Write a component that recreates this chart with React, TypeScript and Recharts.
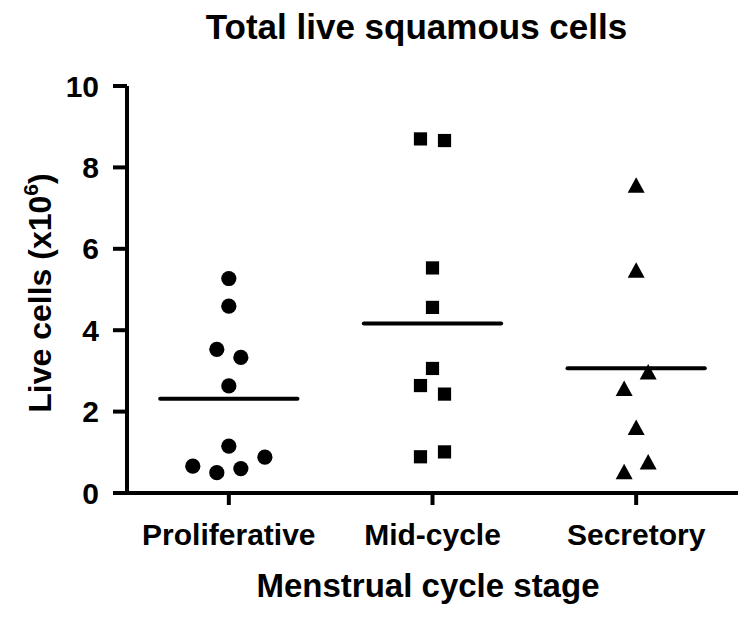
import { ScatterChart, Scatter, XAxis, YAxis, ReferenceLine, Label } from 'recharts'

const categories = ['Proliferative', 'Mid-cycle', 'Secretory']
// live cells (x10^6), listed in the order they sit left to right inside a row
const proliferative = [0.66, 0.5, 0.6, 0.88, 1.15, 2.63, 3.53, 3.33, 4.59, 5.27]
const midCycle = [0.89, 1.01, 2.64, 2.43, 3.06, 4.56, 5.53, 8.7, 8.66]
const secretory = [0.52, 0.76, 1.61, 2.57, 2.97, 5.47, 7.56]
const yTicks = [0, 2, 4, 6, 8, 10]

const FONT = '"Liberation Sans", Arial, Helvetica, sans-serif'
const W = 751
const H = 623
const ROW = 0.42 // values closer than this share a row
const STEP = 0.118 // horizontal spacing in a row (category units)
const HALF = 0.337 // half width of the mean bar

function swarm(values: number[], cat: number) {
  const order = values.map((_, i) => i).sort((a, b) => values[a] - values[b] || a - b)
  const rows: number[][] = []
  for (const i of order) {
    const last = rows[rows.length - 1]
    if (last && values[i] - values[last[0]] < ROW) last.push(i)
    else rows.push([i])
  }
  const pts: { x: number; y: number }[] = []
  rows.forEach(r => {
    const sorted = [...r].sort((a, b) => a - b)
    sorted.forEach((i, k) => {
      pts.push({ x: cat + 0.5 + (k - (sorted.length - 1) / 2) * STEP, y: values[i] })
    })
  })
  return pts
}

const mean = (v: number[]) => v.reduce((s, x) => s + x, 0) / v.length

const groups = [proliferative, midCycle, secretory]

const Dot = (p: any) => <circle cx={p.cx} cy={p.cy} r={7.6} fill="#000" />
const Sq = (p: any) => <rect x={p.cx - 6.6} y={p.cy - 6.6} width={13.2} height={13.2} fill="#000" />
const Tri = (p: any) => (
  <polygon
    points={`${p.cx},${p.cy - 8} ${p.cx - 8.5},${p.cy + 7.5} ${p.cx + 8.5},${p.cy + 7.5}`}
    fill="#000"
  />
)

const tickStyle = { fill: '#000', fontSize: 30, fontWeight: 'bold', fontFamily: FONT }

export default function App() {
  return (
    <div style={{ position: 'absolute', left: 0, top: 0, width: W, height: H, background: '#fff' }}>
      <div
        style={{
          position: 'absolute',
          left: 0,
          top: 9,
          width: 833,
          textAlign: 'center',
          fontFamily: FONT,
          fontWeight: 'bold',
          fontSize: 35,
          lineHeight: '35px',
          color: '#000',
        }}
      >
        Total live squamous cells
      </div>
      <ScatterChart width={W} height={H} margin={{ top: 86, right: 13, bottom: 0, left: 0 }}>
        <XAxis
          type="number"
          dataKey="x"
          domain={[0, 3]}
          ticks={[0.5, 1.5, 2.5]}
          interval={0}
          tickFormatter={(v: number) => categories[Math.floor(v)]}
          height={130}
          tickSize={12}
          tickMargin={19}
          axisLine={{ stroke: '#000', strokeWidth: 4 }}
          tickLine={{ stroke: '#000', strokeWidth: 4 }}
          tick={tickStyle}
        >
          <Label
            content={() => (
              <text x={428} y={597} textAnchor="middle" fontFamily={FONT} fontWeight="bold" fontSize={33} fill="#000">
                Menstrual cycle stage
              </text>
            )}
          />
        </XAxis>
        <YAxis
          type="number"
          dataKey="y"
          domain={[0, 10]}
          ticks={yTicks}
          interval={0}
          width={127}
          tickSize={14}
          tickMargin={14}
          axisLine={{ stroke: '#000', strokeWidth: 4 }}
          tickLine={{ stroke: '#000', strokeWidth: 4 }}
          tick={tickStyle}
        >
          <Label
            content={() => (
              <text
                x={51}
                y={293}
                transform="rotate(-90 51 293)"
                textAnchor="middle"
                fontFamily={FONT}
                fontWeight="bold"
                fontSize={32}
                fill="#000"
              >
                Live cells (x10
                <tspan dy={-13} fontSize={21}>
                  6
                </tspan>
                <tspan dy={13}>)</tspan>
              </text>
            )}
          />
        </YAxis>
        {groups.map((g, i) => (
          <ReferenceLine
            key={categories[i]}
            segment={[
              { x: i + 0.5 - HALF, y: mean(g) },
              { x: i + 0.5 + HALF, y: mean(g) },
            ]}
            stroke="#000"
            strokeWidth={4}
            strokeLinecap="round"
          />
        ))}
        <Scatter data={swarm(proliferative, 0)} shape={Dot} isAnimationActive={false} />
        <Scatter data={swarm(midCycle, 1)} shape={Sq} isAnimationActive={false} />
        <Scatter data={swarm(secretory, 2)} shape={Tri} isAnimationActive={false} />
      </ScatterChart>
    </div>
  )
}
